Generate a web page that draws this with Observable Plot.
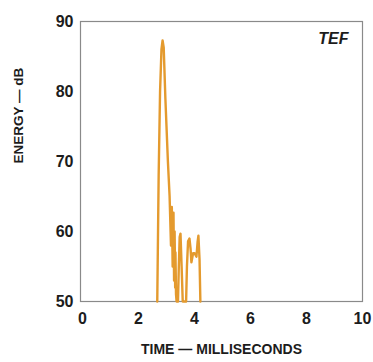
<!DOCTYPE html>
<html>
<head>
<meta charset="utf-8">
<script src="https://cdn.jsdelivr.net/npm/d3@7"></script>
<script src="https://cdn.jsdelivr.net/npm/@observablehq/plot@0.6"></script>
<style>
  html, body { margin: 0; padding: 0; background: #fff; }
  #chart svg { display: block; }
</style>
</head>
<body>
<div id="chart"></div>
<script>
// Time (ms) and energy (dB)
const timeMs   = [0.0, 2.67, 2.72, 2.77, 2.82, 2.86, 2.90, 2.96, 3.05, 3.11, 3.16, 3.19, 3.22, 3.25, 3.27, 3.29, 3.31, 3.32, 3.34, 3.36, 3.41, 3.44, 3.47, 3.50, 3.54, 3.58, 3.70, 3.73, 3.77, 3.82, 3.86, 3.89, 3.95, 4.00, 4.07, 4.11, 4.14, 4.18, 4.21, 10.0];
const energyDb = [50,  50,   68,   80,   86,   87.3, 86.3, 79,   70,   65.1, 58,   63.5, 55,   62.7, 53,   60,   52,   57,   51,   50,   50,   55,   59.2, 59.7, 55,   50,   50,   55,   58.6, 59.0, 57.5, 55.6, 56.9, 56.9, 56.4, 58.5, 59.4, 56,   50,   50];
const xTicks = [0, 2, 4, 6, 8, 10];
const yTicks = [50, 60, 70, 80, 90];

const curve = timeMs.map((t, i) => ({t, e: energyDb[i]})).filter(d => d.t >= 2.67 && d.t <= 4.21);

const chart = Plot.plot({
  width: 373,
  height: 362,
  marginLeft: 80,
  marginRight: 11,
  marginTop: 21,
  marginBottom: 61,
  style: {fontFamily: "'Liberation Sans', Arial, sans-serif", background: "#fff", color: "#1c1c1c"},
  x: {domain: [0, 10], insetLeft: 2},
  y: {domain: [50, 90]},
  marks: [
    Plot.frame({stroke: "#8a8a8a", strokeWidth: 1.2}),
    Plot.line(curve, {x: "t", y: "e", stroke: "#E49A2E", strokeWidth: 2.4, strokeLinejoin: "round"}),
    Plot.axisX(xTicks, {tickSize: 0, tickPadding: 11, fontSize: 16, fontWeight: "bold", label: null}),
    Plot.axisY(yTicks, {tickSize: 0, tickPadding: 7, fontSize: 16, fontWeight: "bold", label: null}),
    Plot.text(["ENERGY — dB"], {frameAnchor: "left", dx: -62, dy: 2, rotate: -90, fontSize: 13.5, fontWeight: "bold", fill: "#1c1c1c", style: "letter-spacing:0.8px"}),
    Plot.text(["TIME — MILLISECONDS"], {frameAnchor: "bottom", dy: 52, fontSize: 14, fontWeight: "bold", fill: "#1c1c1c"}),
    Plot.text(["TEF"], {frameAnchor: "top-right", textAnchor: "end", dx: -14, dy: 11, fontSize: 16, fontWeight: "bold", fontStyle: "italic", fill: "#1c1c1c"})
  ]
});
document.getElementById("chart").appendChild(chart);
</script>
</body>
</html>
